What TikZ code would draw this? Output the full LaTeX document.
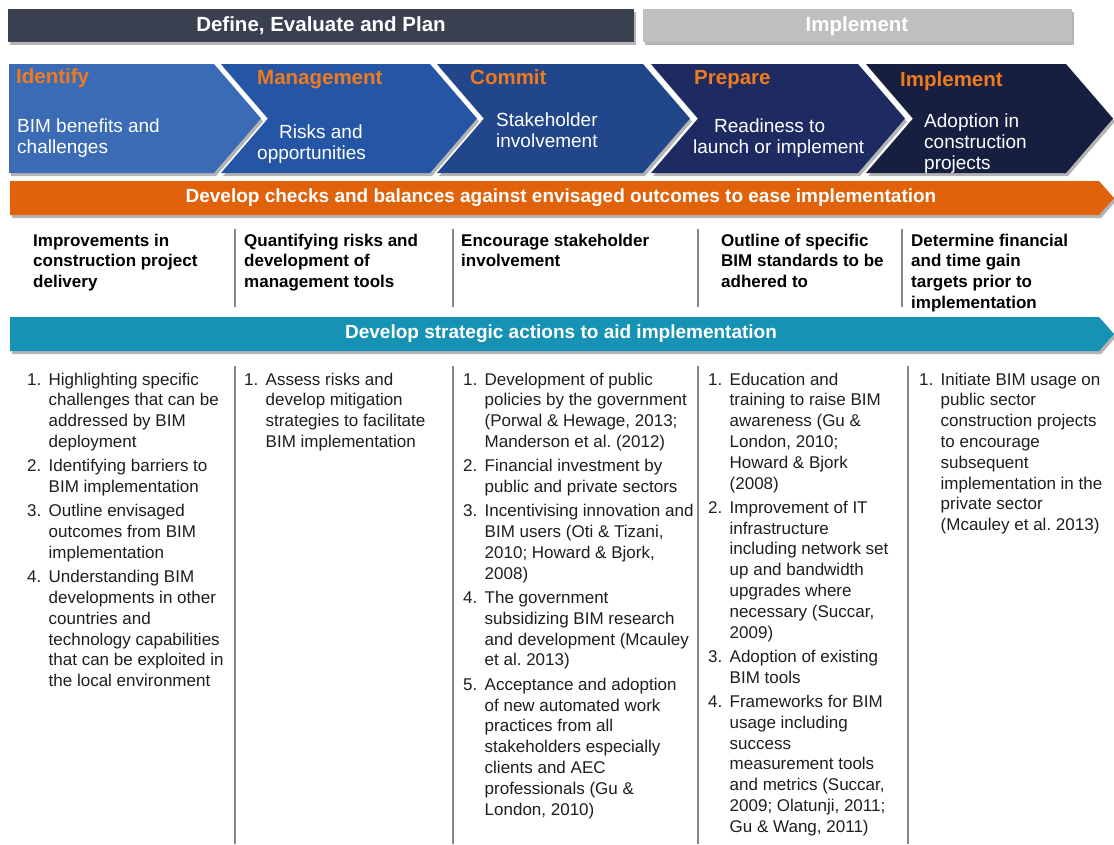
\documentclass[tikz,border=0pt]{standalone}
\usepackage{fontspec}
\setmainfont{Liberation Sans}
\frenchspacing
\definecolor{darkbar}{HTML}{3B4051}
\definecolor{graybar}{HTML}{BFBFBF}
\definecolor{chevA}{HTML}{3A6BB4}
\definecolor{chevB}{HTML}{2556A5}
\definecolor{chevC}{HTML}{22468A}
\definecolor{chevD}{HTML}{1E2B62}
\definecolor{chevE}{HTML}{161F40}
\definecolor{headorange}{HTML}{F07A1E}
\definecolor{bandorange}{HTML}{E0620B}
\definecolor{bandblue}{HTML}{1692B4}
\definecolor{sepgray}{HTML}{7F8A8C}
\definecolor{shadowc}{HTML}{B4B4B4}
\definecolor{bodytext}{HTML}{1E1E1E}
\newcommand{\lnsL}[1]{\begin{tabular}[t]{@{}l@{}}#1\end{tabular}}
\newcommand{\lstcol}[1]{\begin{tabular}[t]{@{}p{21.5pt}@{}l@{}}#1\end{tabular}}
\begin{document}
\begin{tikzpicture}[x=1pt,y=-1pt,
  bartxt/.style={text=white,font=\fontsize{20.5}{24}\selectfont\bfseries,inner sep=0},
  chevhead/.style={text=headorange,font=\fontsize{20.5}{24}\selectfont\bfseries,anchor=base west,inner sep=0},
  chevbody/.style={text=white,font=\fontsize{19}{21}\selectfont,anchor=base west,inner sep=0},
  bandtxt/.style={text=white,font=\fontsize{19}{22}\selectfont\bfseries,inner sep=0},
  goaltxt/.style={text=black,font=\fontsize{17}{20.7}\selectfont\bfseries,anchor=base west,inner sep=0},
  listtxt/.style={text=bodytext,font=\fontsize{17}{20.8}\selectfont\frenchspacing,anchor=base west,inner sep=0},
  sepline/.style={draw=sepgray,line width=1.1pt},
  shadowfill/.style={fill=shadowc}
]
\useasboundingbox (0,0) rectangle (1114,844);
\fill[white] (0,0) rectangle (1114,844);

% top phase bars
\fill[shadowfill] (10,12) rectangle (636,45);
\fill[darkbar] (8,9) rectangle (634,42);
\fill[shadowfill] (645,12) rectangle (1074,45);
\fill[graybar] (643,9) rectangle (1072,42);
\node[bartxt] (phaseA) at (321,26) {Define, Evaluate and Plan};
\node[bartxt] (phaseB) at (857,26) {Implement};

% chevrons
\foreach \xl/\nd/\xr/\c in {9/0/214/chevA, 221/47/430/chevB, 437/47/643/chevC, 651/47/858/chevD, 866/47/1066/chevE}{
  \fill[shadowfill,shift={(2,3)}] (\xl,64) -- (\xr,64) -- ({\xr+47},118.5) -- (\xr,173) -- (\xl,173) -- ({\xl+\nd},118.5) -- cycle;
  \fill[\c] (\xl,64) -- (\xr,64) -- ({\xr+47},118.5) -- (\xr,173) -- (\xl,173) -- ({\xl+\nd},118.5) -- cycle;
}
\node[chevhead] (h1) at (16,83) {Identify};
\node[chevhead] (h2) at (257,84) {Management};
\node[chevhead] (h3) at (470,84) {Commit};
\node[chevhead] (h4) at (694,84) {Prepare};
\node[chevhead] (h5) at (900,86) {Implement};
\node[chevbody] (b1) at (17,132) {\lnsL{BIM benefits and\\challenges}};
\node[chevbody] (b2) at (257,138) {\lnsL{\hspace*{22pt}Risks and\\opportunities}};
\node[chevbody] (b3) at (496,126) {\lnsL{Stakeholder\\involvement}};
\node[chevbody] (b4) at (693,132) {\lnsL{\hspace*{21pt}Readiness to\\launch or implement}};
\node[chevbody] (b5) at (924,127) {\lnsL{Adoption in\\construction\\projects}};

% orange band
\fill[shadowfill,shift={(2,3)}] (10,181) -- (1099,181) -- (1114,198) -- (1099,215) -- (10,215) -- cycle;
\fill[bandorange] (10,181) -- (1099,181) -- (1114,198) -- (1099,215) -- (10,215) -- cycle;
\node[bandtxt] (band1) at (561,198) {Develop checks and balances against envisaged outcomes to ease implementation};

% goals
\foreach \x in {235,453,698,902} \draw[sepline] (\x,229) -- (\x,307);
\node[goaltxt] (g1) at (33,246) {\lnsL{Improvements in\\construction project\\delivery}};
\node[goaltxt] (g2) at (244,246) {\lnsL{Quantifying risks and\\development of\\management tools}};
\node[goaltxt] (g3) at (461,246) {\lnsL{Encourage stakeholder\\involvement}};
\node[goaltxt] (g4) at (721,246) {\lnsL{Outline of specific\\BIM standards to be\\adhered to}};
\node[goaltxt] (g5) at (911,246) {\lnsL{Determine financial\\and time gain\\targets prior to\\implementation}};

% blue band
\fill[shadowfill,shift={(2,3)}] (10,317) -- (1099,317) -- (1114,334) -- (1099,351) -- (10,351) -- cycle;
\fill[bandblue] (10,317) -- (1099,317) -- (1114,334) -- (1099,351) -- (10,351) -- cycle;
\node[bandtxt] (band2) at (561,334) {Develop strategic actions to aid implementation};

% actions
\foreach \x in {235,453,698,908} \draw[sepline] (\x,366) -- (\x,844);
\node[listtxt] (a1) at (27,385) {\lstcol{
1. & Highlighting specific\\
 & challenges that can be\\
 & addressed by BIM\\
 & deployment\\[3.5pt]
2. & Identifying barriers to\\
 & BIM implementation\\[3.5pt]
3. & Outline envisaged\\
 & outcomes from BIM\\
 & implementation\\[3.5pt]
4. & Understanding BIM\\
 & developments in other\\
 & countries and\\
 & technology capabilities\\
 & that can be exploited in\\
 & the local environment}};
\node[listtxt] (a2) at (244,385) {\lstcol{
1. & Assess risks and\\
 & develop mitigation\\
 & strategies to facilitate\\
 & BIM implementation}};
\node[listtxt] (a3) at (463,385) {\lstcol{
1. & Development of public\\
 & policies by the government\\
 & (Porwal \& Hewage, 2013;\\
 & Manderson et al. (2012)\\[3.5pt]
2. & Financial investment by\\
 & public and private sectors\\[3.5pt]
3. & Incentivising innovation and\\
 & BIM users (Oti \& Tizani,\\
 & 2010; Howard \& Bjork,\\
 & 2008)\\[3.5pt]
4. & The government\\
 & subsidizing BIM research\\
 & and development (Mcauley\\
 & et al. 2013)\\[3.5pt]
5. & Acceptance and adoption\\
 & of new automated work\\
 & practices from all\\
 & stakeholders especially\\
 & clients and AEC\\
 & professionals (Gu \&\\
 & London, 2010)}};
\node[listtxt] (a4) at (708,385) {\lstcol{
1. & Education and\\
 & training to raise BIM\\
 & awareness (Gu \&\\
 & London, 2010;\\
 & Howard \& Bjork\\
 & (2008)\\[3.5pt]
2. & Improvement of IT\\
 & infrastructure\\
 & including network set\\
 & up and bandwidth\\
 & upgrades where\\
 & necessary (Succar,\\
 & 2009)\\[3.5pt]
3. & Adoption of existing\\
 & BIM tools\\[3.5pt]
4. & Frameworks for BIM\\
 & usage including\\
 & success\\
 & measurement tools\\
 & and metrics (Succar,\\
 & 2009; Olatunji, 2011;\\
 & Gu \& Wang, 2011)}};
\node[listtxt] (a5) at (919,385) {\lstcol{
1. & Initiate BIM usage on\\
 & public sector\\
 & construction projects\\
 & to encourage\\
 & subsequent\\
 & implementation in the\\
 & private sector\\
 & (Mcauley et al. 2013)}};
\end{tikzpicture}
\end{document}
